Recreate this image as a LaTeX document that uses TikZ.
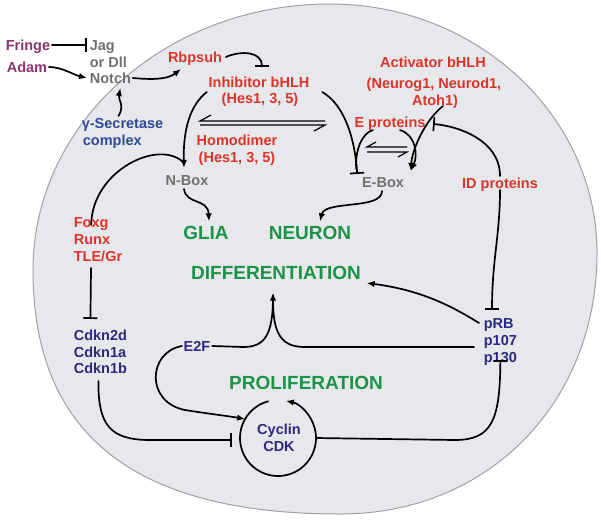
\documentclass[tikz,border=0pt]{standalone}
\usepackage{fontspec}
\setmainfont{Liberation Sans}
\usetikzlibrary{arrows.meta}
\definecolor{cred}{RGB}{221,52,42}
\definecolor{cgreen}{RGB}{28,148,72}
\definecolor{cblue}{RGB}{44,42,128}
\definecolor{cblueb}{RGB}{48,72,150}
\definecolor{cpurple}{RGB}{140,52,112}
\definecolor{cgray}{RGB}{112,112,112}
\definecolor{cfill}{RGB}{230,232,235}
\definecolor{cborder}{RGB}{160,160,163}
\begin{document}
\begin{tikzpicture}[x=1pt,y=-1pt,line width=1.7pt,line cap=round,
  lbl/.style={font=\bfseries\fontsize{14.5}{16}\selectfont,inner sep=1pt,text height=10.4pt,text depth=0pt},
  rlbl/.style={lbl,text=cred},
  glbl/.style={lbl,text=cgray},
  blbl/.style={lbl,text=cblue},
  b2lbl/.style={lbl,text=cblueb},
  plbl/.style={lbl,text=cpurple},
  big/.style={font=\bfseries\fontsize{19}{21}\selectfont,text=cgreen,inner sep=1pt,text height=13.6pt,text depth=0pt},
  act/.style={-{Latex[length=8pt,width=6.5pt]}},
  inhib/.style={-{Bar[width=14pt]}},
  harp/.style={line width=1.2pt,line cap=butt}]
\useasboundingbox (0,0) rectangle (601,519);
\fill[white] (0,0) rectangle (601,519);
% cell
\filldraw[fill=cfill,draw=cborder,line width=1pt]
  (330,4) .. controls (477,4) and (597,116) .. (597,253)
  .. controls (597,402) and (489,514) .. (340,514)
  .. controls (135,514) and (33,435) .. (33,270)
  .. controls (33,123) and (166,4) .. cycle;
% labels
\node[plbl] (fringe) at (28,45) {Fringe};
\node[plbl] (adam) at (27,67) {Adam};
\node[glbl,anchor=west] (jag) at (88,45) {Jag};
\node[glbl,anchor=west] (ordll) at (88,62) {or Dll};
\node[glbl,anchor=west] (notch) at (88,78) {Notch};
\node[b2lbl,anchor=west] (gsec) at (80,123) {γ-Secretase};
\node[b2lbl,anchor=west] (gcomp) at (81,140) {complex};
\node[rlbl] (rbp) at (195,57) {Rbpsuh};
\node[rlbl] (inh1) at (259,82) {Inhibitor bHLH};
\node[rlbl] (inh2) at (260,98) {(Hes1, 3, 5)};
\node[rlbl] (act1) at (433,62) {Activator bHLH};
\node[rlbl] (act2) at (434,83) {(Neurog1, Neurod1,};
\node[rlbl] (act3) at (435,100) {Atoh1)};
\node[rlbl] (eprot) at (390,122) {E proteins};
\node[rlbl] (homo1) at (237,140) {Homodimer};
\node[rlbl] (homo2) at (237,157) {(Hes1, 3, 5)};
\node[glbl] (nbox) at (187,180) {N-Box};
\node[glbl] (ebox) at (383,182) {E-Box};
\node[rlbl] (idp) at (500,183) {ID proteins};
\node[big] (glia) at (206,233) {GLIA};
\node[big] (neuron) at (310,233) {NEURON};
\node[big] (diff) at (276,273) {DIFFERENTIATION};
\node[rlbl,anchor=west] (foxg) at (72,222) {Foxg};
\node[rlbl,anchor=west] (runx) at (72,239) {Runx};
\node[rlbl,anchor=west] (tle) at (72,256) {TLE/Gr};
\node[blbl,anchor=west] (cdknA) at (72,335) {Cdkn2d};
\node[blbl,anchor=west] (cdknB) at (72,352) {Cdkn1a};
\node[blbl,anchor=west] (cdknC) at (72,368) {Cdkn1b};
\node[blbl,anchor=west] (prb) at (482,323) {pRB};
\node[blbl,anchor=west] (p107) at (482,340) {p107};
\node[blbl,anchor=west] (p130) at (482,357) {p130};
\node[blbl] (e2f) at (197,346) {E2F};
\node[big] (prolif) at (306,383) {PROLIFERATION};
\node[circle,minimum size=76pt,inner sep=0pt,outer sep=0pt] (cyc) at (278,438) {};
\node[blbl] (cyclin) at (279,429) {Cyclin};
\node[blbl] (cdk) at (279,446) {CDK};
% Notch pathway
\draw[inhib] (fringe.east) -- ([xshift=-1]jag.west);
\draw[act] (adam.east) .. controls (62,67) and (74,75) .. ([xshift=-1]notch.west);
\draw[act] (notch.east) .. controls (155,80) and (168,79) .. ([shift={(-14,5)}]rbp.south);
\draw[act] ([xshift=-4]gsec.north) .. controls (125,105) and (118,100) .. ([shift={(10,3)}]notch.south);
\draw[inhib] ([xshift=2]rbp.east) .. controls (242,50) and (262,52) .. ([shift={(3,-8)}]inh1.north);
% N-Box
\draw[act] ([shift={(0,3)}]inh1.south west) .. controls (190,105) and (183,130) .. ([shift={(-3,-5)}]nbox.north);
\draw ([yshift=-10]foxg.north) .. controls (92,170) and (160,138) .. ([shift={(-3,-10)}]nbox.north);
\draw[act] ([shift={(-3,2)}]nbox.south) .. controls (186,205) and (208,198) .. ([shift={(3,-3)}]glia.north);
% E-Box
\draw[inhib] ([shift={(11,10)}]inh1.east) .. controls (345,105) and (355,140) .. ([shift={(-3,-1)}]ebox.north west);
\draw ([shift={(-17,1)}]eprot.south) .. controls (362,133) and (355,150) .. ([shift={(-4,-6)}]ebox.north west);
\draw[act] ([shift={(10,1)}]eprot.south) .. controls (416,135) and (418,155) .. ([shift={(5,-4)}]ebox.north east);
\draw[act] ([shift={(8,-1)}]act3.south) .. controls (425,120) and (412,150) .. ([shift={(5,-4)}]ebox.north east);
\draw[act] ([shift={(-1,2)}]ebox.south) .. controls (382,210) and (325,200) .. ([shift={(10,-3)}]neuron.north);
% ID proteins
\coordinate (idA) at (433,124);
\draw[inhib] (idp.north) .. controls (500,140) and (458,126) .. (idA);
\draw[inhib] (idp.south) .. controls (500,235) and (492,260) .. ([shift={(10,-6)}]prb.north west);
% equilibria
\draw[harp] (325,121) -- (200,121) -- (211,115);
\draw[harp] (200,125) -- (325,125) -- (314,131);
\draw[harp] (407,147) -- (367,147) -- (376,142);
\draw[harp] (367,152) -- (407,152) -- (398,157);
% differentiation / proliferation
\draw[act] ([shift={(-3,0)}]prb.west) .. controls (450,305) and (420,290) .. ([shift={(4,10)}]diff.east);
\draw[act] ([shift={(-8,7)}]p107.west) -- (305,347) .. controls (282,347) and (273,335) .. ([shift={(-3,11)}]diff.south);
\draw (e2f.east) -- (243,347) .. controls (265,347) and (273,335) .. (273,296);
\draw[act] (e2f.west) .. controls (148,352) and (145,402) .. (185,410) .. controls (210,414) and (228,416) .. (cyc.150);
\draw[inhib] ([shift={(-7,5)}]tle.south) -- ([shift={(-10,-9)}]cdknA.north);
\draw[inhib] ([shift={(-2,6)}]cdknC.south) .. controls (98,425) and (110,440) .. (150,440) -- ([shift={(-8,2)}]cyc.west);
\draw[inhib] (cyc.east) -- (455,440) .. controls (492,440) and (500,420) .. ([yshift=4]p130.south);
\draw[act] (cyc.105) arc[start angle=255,end angle=-78,radius=38];
\end{tikzpicture}
\end{document}
